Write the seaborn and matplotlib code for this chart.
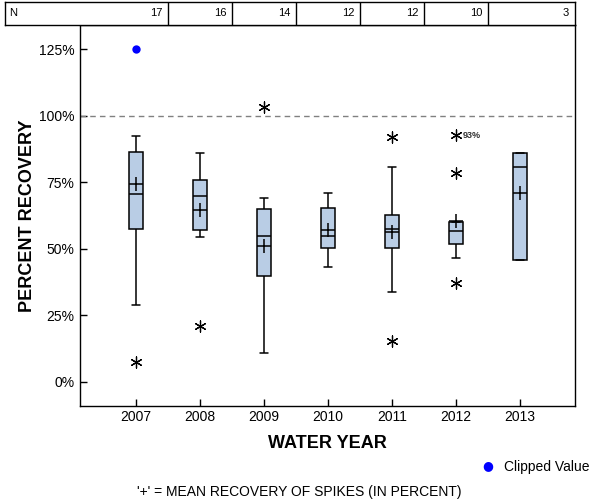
import matplotlib
matplotlib.use("Agg")
import matplotlib.pyplot as plt
import seaborn as sns
import pandas as pd
import numpy as np

# ---- data ----
years = ["2007", "2008", "2009", "2010", "2011", "2012", "2013"]
n_counts = [17, 16, 14, 12, 12, 10, 3]
whisker_low = [29.0, 54.5, 10.8, 43.1, 33.7, 46.6, 45.8]
q1 = [57.5, 57.0, 39.7, 50.3, 50.3, 51.9, 45.8]
median = [70.6, 70.0, 54.9, 54.9, 57.4, 56.8, 80.9]
q3 = [86.3, 75.8, 64.9, 65.3, 62.7, 59.9, 85.9]
whisker_high = [92.4, 86.0, 69.0, 70.8, 80.7, 59.9, 85.9]
means = [74.5, 64.7, 51.2, 57.0, 56.4, 60.5, 70.8]

outlier_years = ["2007", "2008", "2009", "2011", "2011", "2012", "2012", "2012"]
outlier_values = [7.5, 21.0, 103.3, 92.2, 15.2, 92.7, 78.5, 37.0]

clipped_years = ["2007"]
clipped_values = [125.0]

labelled_outlier_year = "2012"
labelled_outlier_value = 92.7
labelled_outlier_text = "93%"

yticks = [0, 25, 50, 75, 100, 125]
ytick_labels = ["0%", "25%", "50%", "75%", "100%", "125%"]

# ---- build frames ----
rows = []
for i, y in enumerate(years):
    for v in (whisker_low[i], q1[i], median[i], q3[i], whisker_high[i]):
        rows.append({"year": y, "value": v})
box_df = pd.DataFrame(rows)
mean_df = pd.DataFrame({"year": years, "value": means})
out_df = pd.DataFrame({"year": outlier_years, "value": outlier_values})
clip_df = pd.DataFrame({"year": clipped_years, "value": clipped_values})

sns.set_style("white")
plt.rcParams["font.family"] = ["Liberation Sans", "DejaVu Sans"]
plt.rcParams["text.color"] = "black"
plt.rcParams["axes.labelcolor"] = "black"
plt.rcParams["xtick.color"] = "black"
plt.rcParams["ytick.color"] = "black"

fig = plt.figure(figsize=(6, 5), dpi=100)
ax = fig.add_axes([80 / 600, 1 - 406 / 500, 495 / 600, 381 / 500])

box_width = 0.23
cap_width = 0.13
sns.boxplot(data=box_df, x="year", y="value", order=years, whis=(0, 100),
            width=box_width, color="#B9CDE5", saturation=1, linecolor="black",
            linewidth=1.1, showfliers=False, ax=ax)
# narrow the whisker caps (styling only)
whisk_vals = set(np.round(whisker_low + whisker_high, 3))
med_vals = set(np.round(median, 3))
for line in ax.lines:
    xd = np.asarray(line.get_xdata(), dtype=float)
    yd = np.asarray(line.get_ydata(), dtype=float)
    if len(xd) == 2 and yd[0] == yd[1] and xd[0] != xd[1]:
        yv = round(float(yd[0]), 3)
        if yv in whisk_vals and yv not in med_vals:
            c = xd.mean()
            line.set_xdata([c - cap_width / 2, c + cap_width / 2])

sns.stripplot(data=mean_df, x="year", y="value", order=years, jitter=False,
              marker="+", s=10, color="black", linewidth=1.1, ax=ax)
sns.stripplot(data=out_df, x="year", y="value", order=years, jitter=False,
              marker=(6, 2, 0), s=8, color="black", linewidth=0.9, ax=ax)
sns.stripplot(data=clip_df, x="year", y="value", order=years, jitter=False,
              marker="o", s=6, color="#0000FF", ax=ax)

ax.text(years.index(labelled_outlier_year) + 0.11, labelled_outlier_value,
        labelled_outlier_text, fontsize=6.5, va="center", ha="left",
        fontweight="bold", color="#333333")

ax.axhline(100, color="#808080", linestyle=(0, (4, 3)), linewidth=1)

ax.set_xlim(-0.875, 6.86)
ax.set_ylim(-9.2, 134.2)
ax.set_yticks(yticks)
ax.set_yticklabels(ytick_labels)
ax.tick_params(axis="both", direction="in", length=5, width=1, labelsize=10,
               color="black", labelcolor="black", bottom=True, left=True,
               pad=4)
ax.tick_params(axis="x", pad=3)
for s in ax.spines.values():
    s.set_color("black")
    s.set_linewidth(1)
ax.set_xlabel("WATER YEAR", fontsize=13, fontweight="bold", labelpad=8)
ax.set_ylabel("PERCENT RECOVERY", fontsize=13, fontweight="bold", labelpad=2)

# ---- header table of N ----
hx = fig.add_axes([5 / 600, 1 - 25 / 500, 570 / 600, 23 / 500])
hx.set_xlim((5 - 136) / 64, 6.86)
hx.set_ylim(0, 1)
hx.set_xticks([])
hx.set_yticks([])
for s in hx.spines.values():
    s.set_color("black")
    s.set_linewidth(1)
for i in range(len(years) - 1):
    hx.axvline(i + 0.5, color="black", linewidth=1)
hx.text((5 - 136) / 64 + 0.07, 0.5, "N", fontsize=8, va="center", ha="left")
for i, n in enumerate(n_counts):
    right = i + 0.5 if i < len(years) - 1 else 6.86
    hx.text(right - 0.09, 0.5, str(n), fontsize=8, va="center", ha="right")

# ---- legend and footnote ----
fig.text(488 / 600, 1 - 466 / 500, "\u25CF", color="#0000FF", fontsize=9,
         ha="center", va="center", family="DejaVu Sans")
fig.text(504 / 600, 1 - 467 / 500, "Clipped Value", fontsize=10,
         ha="left", va="center")
fig.text(299 / 600, 1 - 492 / 500,
         "'+' = MEAN RECOVERY OF SPIKES (IN PERCENT)", fontsize=10,
         ha="center", va="center")

fig.savefig("out.png", dpi=100)
